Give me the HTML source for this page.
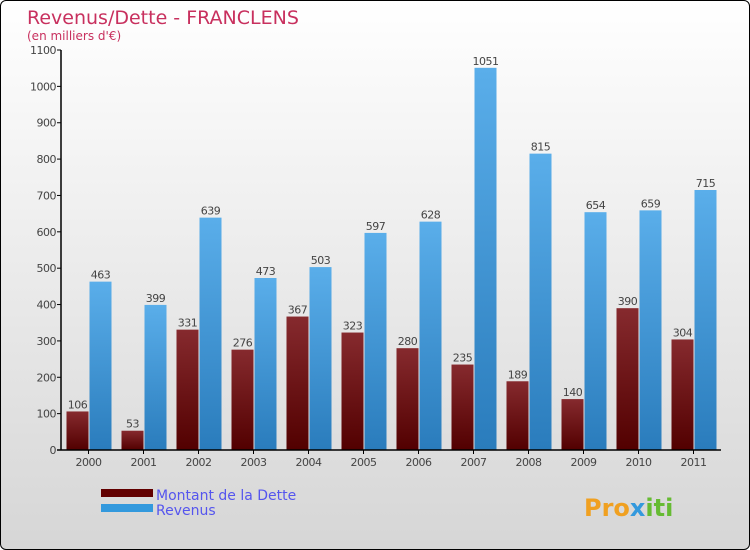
<!DOCTYPE html>
<html><head><meta charset="utf-8"><style>
body{margin:0}
#wrap{position:relative;width:748px;height:548px;border:1px solid #000;border-radius:6px;background:linear-gradient(#ffffff,#d6d6d6);overflow:hidden;font-family:"DejaVu Sans","Liberation Sans",sans-serif}
</style></head><body>
<div id="wrap">
<svg id="c" width="748" height="548">
<defs>
<linearGradient id="gd" x1="0" y1="0" x2="0" y2="1"><stop offset="0" stop-color="#862a2e"/><stop offset="1" stop-color="#520000"/></linearGradient>
<linearGradient id="gr" x1="0" y1="0" x2="0" y2="1"><stop offset="0" stop-color="#5aaeea"/><stop offset="1" stop-color="#2a7cbc"/></linearGradient>
</defs>
<text x="26" y="23" font-size="19" fill="#c8305e">Revenus/Dette - FRANCLENS</text>
<text x="26" y="39" font-size="12" fill="#c8305e">(en milliers d'€)</text>
<g id="plot"></g>
<g>
<rect x="100" y="488" width="52" height="8" fill="#620000"/>
<text x="155" y="499" font-size="14" fill="#5555ee">Montant de la Dette</text>
<rect x="100" y="503" width="52" height="8" fill="#3399dd"/>
<text x="155" y="514" font-size="14" fill="#5555ee">Revenus</text>
</g>
<text x="583" y="515" font-size="24" font-weight="bold" fill="#f0a020">Pro<tspan fill="#3399dd">x</tspan><tspan fill="#66bb33">iti</tspan></text>
</svg>
</div>
<script>
const years=["2000","2001","2002","2003","2004","2005","2006","2007","2008","2009","2010","2011"];
const dette=[106,53,331,276,367,323,280,235,189,140,390,304];
const revenus=[463,399,639,473,503,597,628,1051,815,654,659,715];
const ticks=[0,100,200,300,400,500,600,700,800,900,1000,1100];
const NS="http://www.w3.org/2000/svg";
const g=document.getElementById('plot');
const x0=60,y0=449,yTop=49,step=55,max=1100;
const y=v=>y0-(y0-yTop)*v/max;
function el(t,a,txt){const e=document.createElementNS(NS,t);for(const k in a)e.setAttribute(k,a[k]);if(txt!==undefined)e.textContent=txt;g.appendChild(e);return e;}
ticks.forEach(t=>{
 const l=el('line',{x1:x0-4,x2:x0,y1:y(t),y2:y(t),stroke:'#000'});
 
 
 const tx=el('text',{x:x0-5,y:y(t)+4,'font-size':11,fill:'#444','text-anchor':'end','letter-spacing':'-0.5'},t);
 
 
});
years.forEach((yr,i)=>{
 const c=x0+(i+0.5)*step;
 const bd=el('rect',{x:c-22,y:y(dette[i]),width:22,height:y0-y(dette[i]),fill:'url(#gd)'});
 
 
 const br=el('rect',{x:c+1,y:y(revenus[i]),width:22,height:y0-y(revenus[i]),fill:'url(#gr)'});
 
 
 const ld=el('text',{x:c-11,y:y(dette[i])-3,'font-size':11,fill:'#444','text-anchor':'middle','letter-spacing':'-0.5'},dette[i]);
 
 
 const lr=el('text',{x:c+12,y:y(revenus[i])-3,'font-size':11,fill:'#444','text-anchor':'middle','letter-spacing':'-0.5'},revenus[i]);
 
 
 const tk=el('line',{x1:c,x2:c,y1:y0,y2:y0+4,stroke:'#000'});
 
 
 const xl=el('text',{x:c,y:y0+16,'font-size':11,fill:'#444','text-anchor':'middle','letter-spacing':'-0.5'},yr);
 
 
});
const ya=el('line',{x1:x0,x2:x0,y1:yTop,y2:y0,stroke:'#000','stroke-width':1.5});


const xa=el('line',{x1:x0-4,x2:x0+12*step,y1:y0,y2:y0,stroke:'#000','stroke-width':1.5});


</script>
</body></html>
